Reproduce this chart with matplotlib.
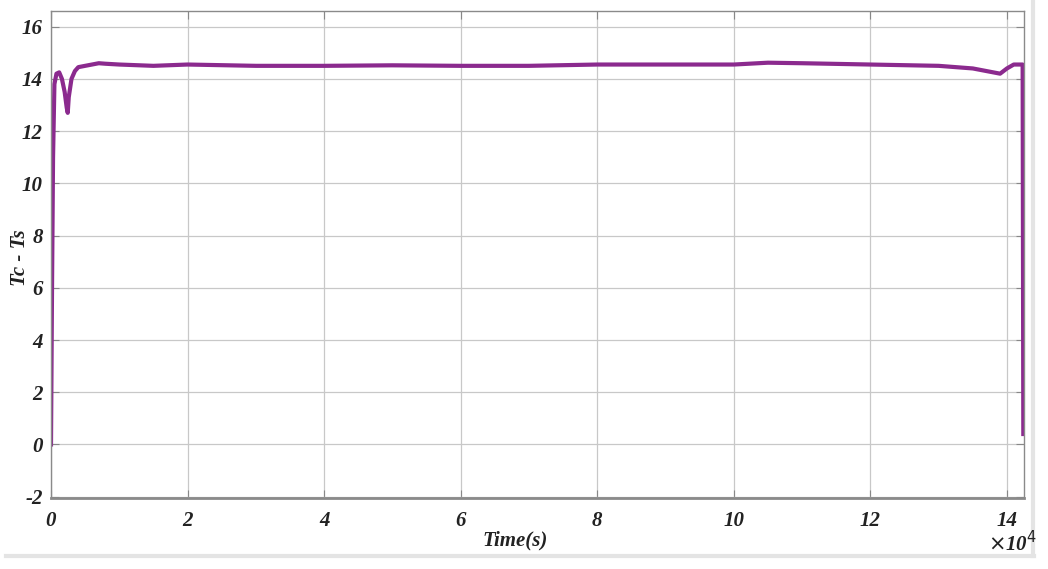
import matplotlib
matplotlib.use("Agg")
import matplotlib.pyplot as plt
from matplotlib.ticker import FuncFormatter
from matplotlib.lines import Line2D

plt.rcParams["axes.unicode_minus"] = False

# Time in seconds, Tc - Ts values
time_s = [0, 150, 300, 500, 800, 1200, 1600, 2000, 2300, 2450, 2600, 3000, 3500,
          4000, 5000, 6000, 7000, 8000, 10000, 15000, 20000, 30000, 40000, 50000,
          60000, 70000, 80000, 90000, 100000, 105000, 110000, 120000, 130000,
          135000, 139000, 140000, 141000, 142300, 142400]
tc_ts = [0.0, 6.0, 11.0, 13.8, 14.2, 14.25, 14.0, 13.5, 12.9, 12.7, 13.3, 14.0, 14.3,
         14.45, 14.5, 14.55, 14.6, 14.58, 14.55, 14.5, 14.55, 14.5, 14.5, 14.52,
         14.5, 14.5, 14.55, 14.55, 14.55, 14.62, 14.6, 14.55, 14.5,
         14.4, 14.2, 14.4, 14.55, 14.55, 0.4]

x_ticks = [0, 20000, 40000, 60000, 80000, 100000, 120000, 140000]
y_ticks = [-2, 0, 2, 4, 6, 8, 10, 12, 14, 16]

W, H = 1048, 569
fig = plt.figure(figsize=(W / 100, H / 100), dpi=100)
ax = fig.add_axes([51 / W, 1 - 498 / H, (1024 - 51) / W, (498 - 11) / H])

ax.plot(time_s, tc_ts, color="#8B2A8E", lw=3.0, solid_joinstyle="round")

ax.set_xlim(0, 142500)
ax.set_ylim(-2.05, 16.6)
ax.set_xticks(x_ticks)
ax.set_yticks(y_ticks)
ax.xaxis.set_major_formatter(FuncFormatter(lambda v, p: f"{v / 1e4:g}"))
ax.grid(True, color="#c8c8c8", lw=0.9)
ax.tick_params(direction="in", top=True, right=True, length=6, color="#888888",
               labelsize=15)
ax.tick_params(axis="x", pad=9)
ax.tick_params(axis="y", pad=6)
for lab in ax.get_xticklabels() + ax.get_yticklabels():
    lab.set_fontfamily("Liberation Serif")
    lab.set_fontweight("bold")
    lab.set_fontstyle("italic")
    lab.set_color("#222222")
for s in ax.spines.values():
    s.set_color("#8a8a8a")
    s.set_linewidth(1.0)
ax.spines["bottom"].set_linewidth(2.0)

font = dict(family="Liberation Serif", weight="bold", style="italic", size=15,
            color="#222222")
fig.text(515 / W, 1 - 540 / H, "Time(s)", ha="center", va="center", **font)
fig.text(20 / W, 1 - 258 / H, "Tc - Ts", ha="center", va="center", rotation=90,
         **font)
fig.text(1012 / W, 1 - 544 / H, r"$\times$10$^{4}$", ha="center", va="center",
         **font)

# light frame lines of the original screenshot
fig.add_artist(Line2D([6 / W, 1034 / W], [1 - 556 / H, 1 - 556 / H],
                      color="#e4e4e4", lw=3))
fig.add_artist(Line2D([1033 / W, 1033 / W], [1 - 2 / H, 1 - 556 / H],
                      color="#e4e4e4", lw=3))

fig.savefig("out.png", dpi=100, facecolor="white")
